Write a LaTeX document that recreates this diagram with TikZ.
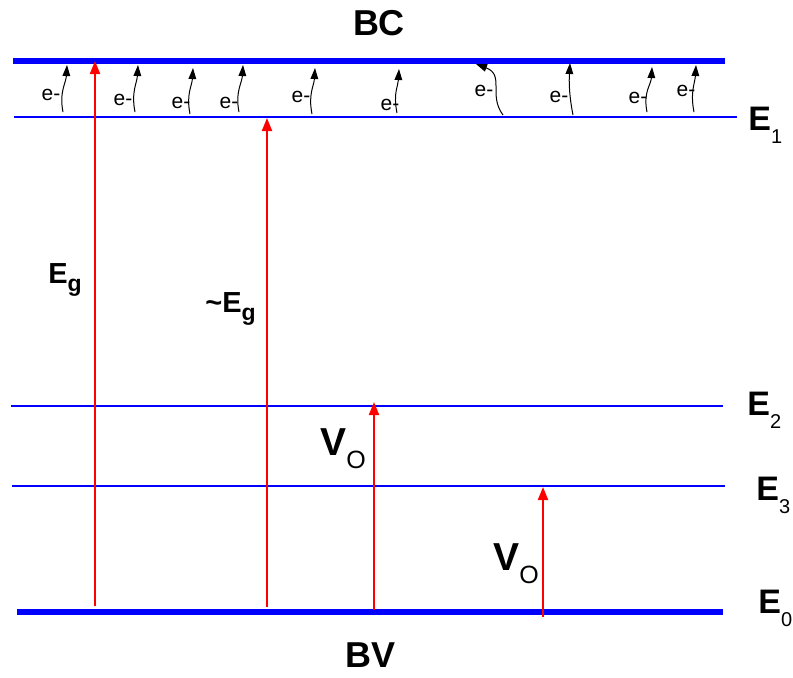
\documentclass[tikz,border=0pt]{standalone}
\usepackage{fontspec}
\setmainfont{Liberation Sans}
\usetikzlibrary{positioning, arrows.meta}

\newcommand{\lvlsub}[4]{{\fontsize{#1}{#1}\selectfont\bfseries #2}\raisebox{-6.5pt}{\fontsize{#4}{12}\selectfont #3}}

\begin{document}
\begin{tikzpicture}[
      x=0.5pt, y=-0.5pt,
      band/.style={draw=blue, line width=2.6pt},
      level/.style={draw=blue, line width=1.2pt},
      excite/.style={draw=red, line width=1pt, -{Triangle[length=6.5pt, width=5pt]}},
      hop/.style={draw=black, line width=0.5pt, -{Triangle[length=5.5pt, width=3.8pt]}},
      elab/.style={inner sep=0pt, font=\fontsize{10.5}{12}\selectfont},
      title/.style={inner sep=0pt, font=\fontsize{18}{20}\selectfont\bfseries},
      tag/.style={inner sep=0pt, anchor=base west}
    ]
    \useasboundingbox (0,0) rectangle (793,677);

    % energy levels
    \coordinate (bcL) at (13,61);  \coordinate (bcR) at (725,61);
    \coordinate (e1L) at (14,117); \coordinate (e1R) at (737,117);
    \coordinate (e2L) at (11,406); \coordinate (e2R) at (723,406);
    \coordinate (e3L) at (12,486); \coordinate (e3R) at (725,486);
    \coordinate (e0L) at (17,612); \coordinate (e0R) at (723,612);
    \draw[band] (bcL) -- (bcR);
    \draw[level] (e1L) -- (e1R);
    \draw[level] (e2L) -- (e2R);
    \draw[level] (e3L) -- (e3R);
    \draw[band] (e0L) -- (e0R);

    \node[title] (bc) at (379,23.5) {BC};
    \node[title] (bv) at (371,655.5) {BV};

    \node[tag] (lvl1) at (748,130) {\lvlsub{17}{E}{1}{10}};
    \node[tag] (lvl2) at (747,415) {\lvlsub{17}{E}{2}{10}};
    \node[tag] (lvl3) at (756,500) {\lvlsub{17}{E}{3}{10}};
    \node[tag] (lvl0) at (758,613) {\lvlsub{17}{E}{0}{10}};

    % transitions
    \coordinate (gapA) at (95,606);  \coordinate (gapAtop) at (95,61);
    \coordinate (gapB) at (267,607); \coordinate (gapBtop) at (267,118);
    \coordinate (voA) at (374,610);  \coordinate (voAtop) at (374,402);
    \coordinate (voB) at (543,617);  \coordinate (voBtop) at (543,487);
    \draw[excite] (gapA) -- (gapAtop);
    \draw[excite] (gapB) -- (gapBtop);
    \draw[excite] (voA) -- (voAtop);
    \draw[excite] (voB) -- (voBtop);

    \node[tag] (eg) at (48,283) {{\fontsize{14.5}{16}\selectfont\bfseries E}\raisebox{-4pt}{\fontsize{11.5}{12}\selectfont\bfseries g}};
    \node[tag] (approxeg) at (205,312) {{\fontsize{14.5}{16}\selectfont\bfseries \textasciitilde E}\raisebox{-4pt}{\fontsize{11.5}{12}\selectfont\bfseries g}};
    \node[tag] (vo1) at (320,455) {\lvlsub{19.5}{V}{O}{12.5}};
    \node[tag] (vo2) at (493,570) {\lvlsub{19.5}{V}{O}{12.5}};

    % electrons in the upper band
    \foreach \lx/\ly/\bx/\by/\tx/\ty [count=\i] in {
        51/95/63/112/67/65, 123/100/135/112/138/65, 181/103/190/114/193/68,
        229/103/239/112/243/65, 301/97/312/114/315/68, 390/105/397/113/399/69,
        559/97/573/115/570/63, 638/98/647/112/652/67, 686/91/694/112/696/65} {
      \node[elab] (el\i) at (\lx,\ly) {e-};
      \coordinate (hb\i) at (\bx,\by);
      \coordinate (ht\i) at (\tx,\ty);
      \draw[hop] (hb\i) .. controls +(-4,-20) and +(-1,18) .. (ht\i);
    }
    \node[elab] (el10) at (484,91) {e-};
    \coordinate (hb10) at (503,115);
    \coordinate (ht10) at (476,64);
    \draw[hop] (hb10) .. controls +(-15,-20) and +(29,11) .. (ht10);
  \end{tikzpicture}
\end{document}
